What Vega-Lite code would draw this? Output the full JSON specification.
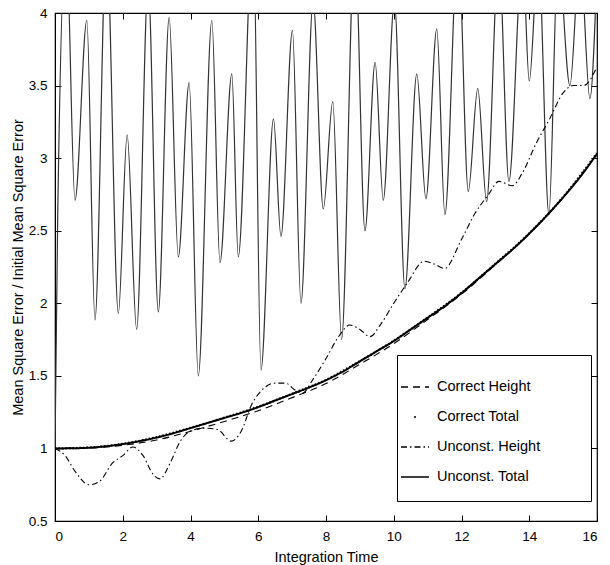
{
  "$schema": "https://vega.github.io/schema/vega-lite/v6.json",
  "width": 542,
  "height": 508,
  "autosize": "none",
  "padding": {"left": 55, "top": 13, "right": 13, "bottom": 44},
  "background": "white",
  "datasets": {
    "osc": [
      {"t": 0, "v": 1.0}, {"t": 0.08, "v": 2.6}, {"t": 0.33, "v": 4.5}, {"t": 0.59, "v": 2.71},
      {"t": 0.94, "v": 3.95}, {"t": 1.18, "v": 1.885}, {"t": 1.52, "v": 4.5}, {"t": 1.87, "v": 1.93},
      {"t": 2.13, "v": 3.16}, {"t": 2.41, "v": 1.82}, {"t": 2.75, "v": 4.2}, {"t": 3.05, "v": 1.94},
      {"t": 3.37, "v": 3.97}, {"t": 3.64, "v": 2.32}, {"t": 3.96, "v": 3.52}, {"t": 4.23, "v": 1.5},
      {"t": 4.63, "v": 3.95}, {"t": 4.87, "v": 2.28}, {"t": 5.22, "v": 3.58}, {"t": 5.41, "v": 2.32},
      {"t": 5.85, "v": 4.6}, {"t": 6.08, "v": 1.54}, {"t": 6.45, "v": 3.27}, {"t": 6.67, "v": 2.46},
      {"t": 7.01, "v": 3.88}, {"t": 7.26, "v": 2.0}, {"t": 7.62, "v": 4.08}, {"t": 7.92, "v": 2.65},
      {"t": 8.2, "v": 3.39}, {"t": 8.46, "v": 1.75}, {"t": 8.85, "v": 4.5}, {"t": 9.15, "v": 2.5},
      {"t": 9.45, "v": 3.66}, {"t": 9.69, "v": 2.71}, {"t": 10.02, "v": 4.08}, {"t": 10.33, "v": 2.1},
      {"t": 10.68, "v": 3.58}, {"t": 10.95, "v": 2.72}, {"t": 11.27, "v": 3.89}, {"t": 11.51, "v": 2.61},
      {"t": 11.9, "v": 4.5}, {"t": 12.2, "v": 2.77}, {"t": 12.48, "v": 3.48}, {"t": 12.74, "v": 2.7},
      {"t": 13.1, "v": 4.4}, {"t": 13.4, "v": 2.84}, {"t": 13.8, "v": 4.4}, {"t": 14.0, "v": 3.53},
      {"t": 14.27, "v": 4.4}, {"t": 14.58, "v": 2.61}, {"t": 14.85, "v": 4.4}, {"t": 15.2, "v": 3.5},
      {"t": 15.5, "v": 4.4}, {"t": 15.79, "v": 3.41}, {"t": 16.0, "v": 4.3}
    ],
    "series": [
      {"s": "Unconst. Total", "t": 0, "v": 1.0}, {"s": "Unconst. Total", "t": 0.5, "v": 1.001},
      {"s": "Unconst. Total", "t": 1, "v": 1.005}, {"s": "Unconst. Total", "t": 1.5, "v": 1.015},
      {"s": "Unconst. Total", "t": 2, "v": 1.03}, {"s": "Unconst. Total", "t": 2.5, "v": 1.05},
      {"s": "Unconst. Total", "t": 3, "v": 1.075}, {"s": "Unconst. Total", "t": 3.5, "v": 1.105},
      {"s": "Unconst. Total", "t": 4, "v": 1.14}, {"s": "Unconst. Total", "t": 4.5, "v": 1.175},
      {"s": "Unconst. Total", "t": 5, "v": 1.21}, {"s": "Unconst. Total", "t": 5.5, "v": 1.245},
      {"s": "Unconst. Total", "t": 6, "v": 1.285}, {"s": "Unconst. Total", "t": 6.5, "v": 1.33},
      {"s": "Unconst. Total", "t": 7, "v": 1.375}, {"s": "Unconst. Total", "t": 7.5, "v": 1.42},
      {"s": "Unconst. Total", "t": 8, "v": 1.47}, {"s": "Unconst. Total", "t": 8.5, "v": 1.53},
      {"s": "Unconst. Total", "t": 9, "v": 1.6}, {"s": "Unconst. Total", "t": 9.5, "v": 1.67},
      {"s": "Unconst. Total", "t": 10, "v": 1.74}, {"s": "Unconst. Total", "t": 10.5, "v": 1.82},
      {"s": "Unconst. Total", "t": 11, "v": 1.9}, {"s": "Unconst. Total", "t": 11.5, "v": 1.98},
      {"s": "Unconst. Total", "t": 12, "v": 2.07}, {"s": "Unconst. Total", "t": 12.5, "v": 2.17},
      {"s": "Unconst. Total", "t": 13, "v": 2.27}, {"s": "Unconst. Total", "t": 13.5, "v": 2.37},
      {"s": "Unconst. Total", "t": 14, "v": 2.48}, {"s": "Unconst. Total", "t": 14.5, "v": 2.6},
      {"s": "Unconst. Total", "t": 15, "v": 2.73}, {"s": "Unconst. Total", "t": 15.5, "v": 2.87},
      {"s": "Unconst. Total", "t": 16, "v": 3.03},
      {"s": "Correct Total", "t": 0, "v": 1.0}, {"s": "Correct Total", "t": 1, "v": 1.006},
      {"s": "Correct Total", "t": 2, "v": 1.032}, {"s": "Correct Total", "t": 3, "v": 1.078},
      {"s": "Correct Total", "t": 4, "v": 1.142}, {"s": "Correct Total", "t": 5, "v": 1.212},
      {"s": "Correct Total", "t": 6, "v": 1.287}, {"s": "Correct Total", "t": 7, "v": 1.377},
      {"s": "Correct Total", "t": 8, "v": 1.472}, {"s": "Correct Total", "t": 9, "v": 1.602},
      {"s": "Correct Total", "t": 10, "v": 1.742}, {"s": "Correct Total", "t": 11, "v": 1.902},
      {"s": "Correct Total", "t": 12, "v": 2.072}, {"s": "Correct Total", "t": 13, "v": 2.272},
      {"s": "Correct Total", "t": 14, "v": 2.482}, {"s": "Correct Total", "t": 15, "v": 2.732},
      {"s": "Correct Total", "t": 16, "v": 3.035},
      {"s": "Correct Height", "t": 0, "v": 1.0}, {"s": "Correct Height", "t": 1, "v": 1.003},
      {"s": "Correct Height", "t": 2, "v": 1.022}, {"s": "Correct Height", "t": 3, "v": 1.058},
      {"s": "Correct Height", "t": 4, "v": 1.118}, {"s": "Correct Height", "t": 5, "v": 1.186},
      {"s": "Correct Height", "t": 6, "v": 1.26}, {"s": "Correct Height", "t": 7, "v": 1.35},
      {"s": "Correct Height", "t": 8, "v": 1.447}, {"s": "Correct Height", "t": 9, "v": 1.58},
      {"s": "Correct Height", "t": 10, "v": 1.722}, {"s": "Correct Height", "t": 11, "v": 1.888},
      {"s": "Correct Height", "t": 12, "v": 2.062}, {"s": "Correct Height", "t": 13, "v": 2.265},
      {"s": "Correct Height", "t": 14, "v": 2.478}, {"s": "Correct Height", "t": 15, "v": 2.728},
      {"s": "Correct Height", "t": 16, "v": 3.025},
      {"s": "Unconst. Height", "t": 0, "v": 1.0}, {"s": "Unconst. Height", "t": 0.3, "v": 0.95},
      {"s": "Unconst. Height", "t": 0.6, "v": 0.84}, {"s": "Unconst. Height", "t": 1.0, "v": 0.75},
      {"s": "Unconst. Height", "t": 1.3, "v": 0.77}, {"s": "Unconst. Height", "t": 1.7, "v": 0.9},
      {"s": "Unconst. Height", "t": 2.0, "v": 0.95}, {"s": "Unconst. Height", "t": 2.3, "v": 1.01},
      {"s": "Unconst. Height", "t": 2.6, "v": 0.95}, {"s": "Unconst. Height", "t": 2.9, "v": 0.82},
      {"s": "Unconst. Height", "t": 3.1, "v": 0.79}, {"s": "Unconst. Height", "t": 3.4, "v": 0.9},
      {"s": "Unconst. Height", "t": 3.7, "v": 1.05}, {"s": "Unconst. Height", "t": 4.0, "v": 1.12},
      {"s": "Unconst. Height", "t": 4.4, "v": 1.14}, {"s": "Unconst. Height", "t": 4.8, "v": 1.13},
      {"s": "Unconst. Height", "t": 5.2, "v": 1.05}, {"s": "Unconst. Height", "t": 5.5, "v": 1.12},
      {"s": "Unconst. Height", "t": 5.8, "v": 1.3}, {"s": "Unconst. Height", "t": 6.1, "v": 1.4},
      {"s": "Unconst. Height", "t": 6.5, "v": 1.45}, {"s": "Unconst. Height", "t": 6.8, "v": 1.45},
      {"s": "Unconst. Height", "t": 7.1, "v": 1.4}, {"s": "Unconst. Height", "t": 7.3, "v": 1.38},
      {"s": "Unconst. Height", "t": 7.6, "v": 1.47}, {"s": "Unconst. Height", "t": 8.0, "v": 1.62},
      {"s": "Unconst. Height", "t": 8.4, "v": 1.78}, {"s": "Unconst. Height", "t": 8.7, "v": 1.85},
      {"s": "Unconst. Height", "t": 9.0, "v": 1.82}, {"s": "Unconst. Height", "t": 9.3, "v": 1.77},
      {"s": "Unconst. Height", "t": 9.6, "v": 1.85}, {"s": "Unconst. Height", "t": 10.0, "v": 2.0},
      {"s": "Unconst. Height", "t": 10.4, "v": 2.14}, {"s": "Unconst. Height", "t": 10.9, "v": 2.29},
      {"s": "Unconst. Height", "t": 11.2, "v": 2.27}, {"s": "Unconst. Height", "t": 11.5, "v": 2.24},
      {"s": "Unconst. Height", "t": 12.0, "v": 2.44}, {"s": "Unconst. Height", "t": 12.4, "v": 2.62},
      {"s": "Unconst. Height", "t": 12.8, "v": 2.75}, {"s": "Unconst. Height", "t": 13.1, "v": 2.84},
      {"s": "Unconst. Height", "t": 13.5, "v": 2.81}, {"s": "Unconst. Height", "t": 13.8, "v": 2.9},
      {"s": "Unconst. Height", "t": 14.2, "v": 3.1}, {"s": "Unconst. Height", "t": 14.6, "v": 3.27},
      {"s": "Unconst. Height", "t": 15.0, "v": 3.45}, {"s": "Unconst. Height", "t": 15.3, "v": 3.5},
      {"s": "Unconst. Height", "t": 15.6, "v": 3.5}, {"s": "Unconst. Height", "t": 16.0, "v": 3.63}
    ]
  },
  "layer": [
    {
      "data": {"name": "osc"},
      "mark": {"type": "line", "color": "#333333", "strokeWidth": 1.2, "clip": true, "interpolate": "monotone"},
      "encoding": {
        "x": {
          "field": "t", "type": "quantitative",
          "scale": {"domain": [0, 16], "nice": false, "zero": false},
          "axis": {"values": [0, 2, 4, 6, 8, 10, 12, 14, 16], "title": "Integration Time", "labelPadding": 14, "titlePadding": 8}
        },
        "y": {
          "field": "v", "type": "quantitative",
          "scale": {"domain": [0.5, 4], "nice": false, "zero": false},
          "axis": {"values": [0.5, 1, 1.5, 2, 2.5, 3, 3.5, 4], "format": "~g", "title": "Mean Square Error / Initial Mean Square Error", "labelPadding": 14, "titlePadding": 3}
        }
      }
    },
    {
      "data": {"name": "series"},
      "mark": {"type": "line", "color": "black", "clip": true, "interpolate": "monotone"},
      "encoding": {
        "x": {"field": "t", "type": "quantitative", "axis": {"orient": "top", "labels": false, "title": null, "domain": false, "values": [0, 2, 4, 6, 8, 10, 12, 14, 16]}},
        "y": {"field": "v", "type": "quantitative", "axis": {"orient": "right", "labels": false, "title": null, "domain": false, "values": [0.5, 1, 1.5, 2, 2.5, 3, 3.5, 4]}},
        "strokeDash": {
          "field": "s", "type": "nominal",
          "scale": {
            "domain": ["Correct Height", "Correct Total", "Unconst. Height", "Unconst. Total"],
            "range": [[7, 5], [0, 13, 2, 60], [6, 3, 1.5, 3], [1, 0]]
          },
          "legend": {
            "title": null, "orient": "none", "legendX": 342, "legendY": 342,
            "symbolType": "stroke", "symbolSize": 784, "symbolStrokeWidth": 1.3, "symbolStrokeColor": "black",
            "padding": 17, "rowPadding": 8, "strokeColor": "black", "fillColor": "white",
            "labelFontSize": 14.5, "labelColor": "black", "labelFont": "Liberation Sans",
            "symbolOffset": -14, "labelOffset": 7, "labelLimit": 300,
            "labelExpr": "datum.label + '\u2800\u2800\u2800'"
          }
        },
        "strokeWidth": {"condition": {"test": "datum.s === 'Unconst. Total'", "value": 2}, "value": 1.1}
      }
    },
    {
      "data": {"name": "series"},
      "transform": [{"filter": "datum.s === 'Correct Total'"}],
      "mark": {"type": "line", "color": "black", "strokeWidth": 2.2, "strokeDash": [1.5, 2], "clip": true, "interpolate": "monotone"},
      "encoding": {
        "x": {"field": "t", "type": "quantitative", "axis": null},
        "y": {"field": "v", "type": "quantitative", "axis": null}
      }
    }
  ],
  "resolve": {"axis": {"x": "independent", "y": "independent"}},
  "config": {
    "font": "Liberation Sans",
    "view": {"stroke": "black", "strokeWidth": 1.2},
    "axis": {
      "domainColor": "black", "tickColor": "black", "labelColor": "black", "titleColor": "black",
      "labelFontSize": 13.5, "titleFontSize": 14.5, "titleFontWeight": "normal", "tickSize": -6, "grid": false,
      "labelFont": "Liberation Sans", "titleFont": "Liberation Sans"
    }
  }
}
